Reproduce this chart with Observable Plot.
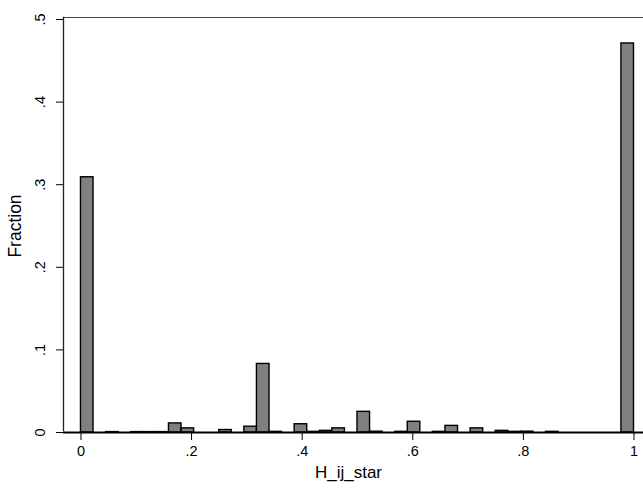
<!DOCTYPE html>
<html>
<head>
<meta charset="utf-8">
<script src="https://cdn.jsdelivr.net/npm/d3@7"></script>
<script src="https://cdn.jsdelivr.net/npm/@observablehq/plot@0.6"></script>
<style>
  html, body { margin: 0; padding: 0; background: #fff; }
  #chart svg { display: block; }
</style>
</head>
<body>
<div id="chart"></div>
<script>
// Histogram of H_ij_star: 44 equal-width bins over [0, 1]
const binCount = 44;
const fractions = [
  0.309, 0, 0.0005, 0, 0.0005, 0.0005, 0.0005, 0.011, 0.005, 0, 0,
  0.003, 0, 0.007, 0.083, 0.0008, 0, 0.010, 0.0008, 0.002, 0.005, 0,
  0.025, 0.001, 0, 0.0008, 0.013, 0, 0.0008, 0.008, 0, 0.005, 0,
  0.002, 0.0008, 0.001, 0, 0.0008, 0, 0, 0, 0, 0, 0.471
];
const xTicks = [0, 0.2, 0.4, 0.6, 0.8, 1];
const xTickLabels = ["0", ".2", ".4", ".6", ".8", "1"];
const yTicks = [0, 0.1, 0.2, 0.3, 0.4, 0.5];
const yTickLabels = ["0", ".1", ".2", ".3", ".4", ".5"];
const xTitle = "H_ij_star";
const yTitle = "Fraction";

const bins = fractions
  .map((f, i) => ({x1: i / binCount, x2: (i + 1) / binCount, f}))
  .filter(d => d.f > 0);

const font = "'Liberation Sans', Arial, Helvetica, sans-serif";

const chart = Plot.plot({
  width: 643,
  height: 492,
  marginLeft: 63,
  marginRight: 0,
  marginTop: 19,
  marginBottom: 60,
  style: {fontFamily: font, background: "#fff"},
  x: {domain: [-0.0316, 1.0172]},
  y: {domain: [0, 0.5]},
  marks: [
    Plot.frame({anchor: "top", stroke: "#444", strokeWidth: 1.2, dy: -2}),
    Plot.rectY(bins, {x1: "x1", x2: "x2", y: "f", fill: "#808080", stroke: "#000", strokeWidth: 1.4}),
    Plot.ruleY([0], {stroke: "#000", strokeWidth: 2}),
    Plot.frame({anchor: "left", stroke: "#222", strokeWidth: 1.3, dy: -2}),
    Plot.axisX({ticks: xTicks, tickFormat: (d, i) => xTickLabels[i], tickSize: 8, tickPadding: 5, fontSize: 14.5, label: null, stroke: "#000"}),
    Plot.axisY({ticks: yTicks, text: null, tickSize: 7, label: null, stroke: "#000"}),
    Plot.text(yTicks, {y: d => d, text: (d, i) => yTickLabels[i], frameAnchor: "left", dx: -23, rotate: -90, textAnchor: "middle", fontSize: 14.5, fill: "#000"}),
    Plot.text([yTitle], {frameAnchor: "left", dx: -48, rotate: -90, textAnchor: "middle", fontSize: 17.5, fill: "#000"}),
    Plot.text([xTitle], {frameAnchor: "bottom", dx: -5, dy: 45, textAnchor: "middle", fontSize: 17, fill: "#000"})
  ]
});
document.getElementById("chart").appendChild(chart);
</script>
</body>
</html>
